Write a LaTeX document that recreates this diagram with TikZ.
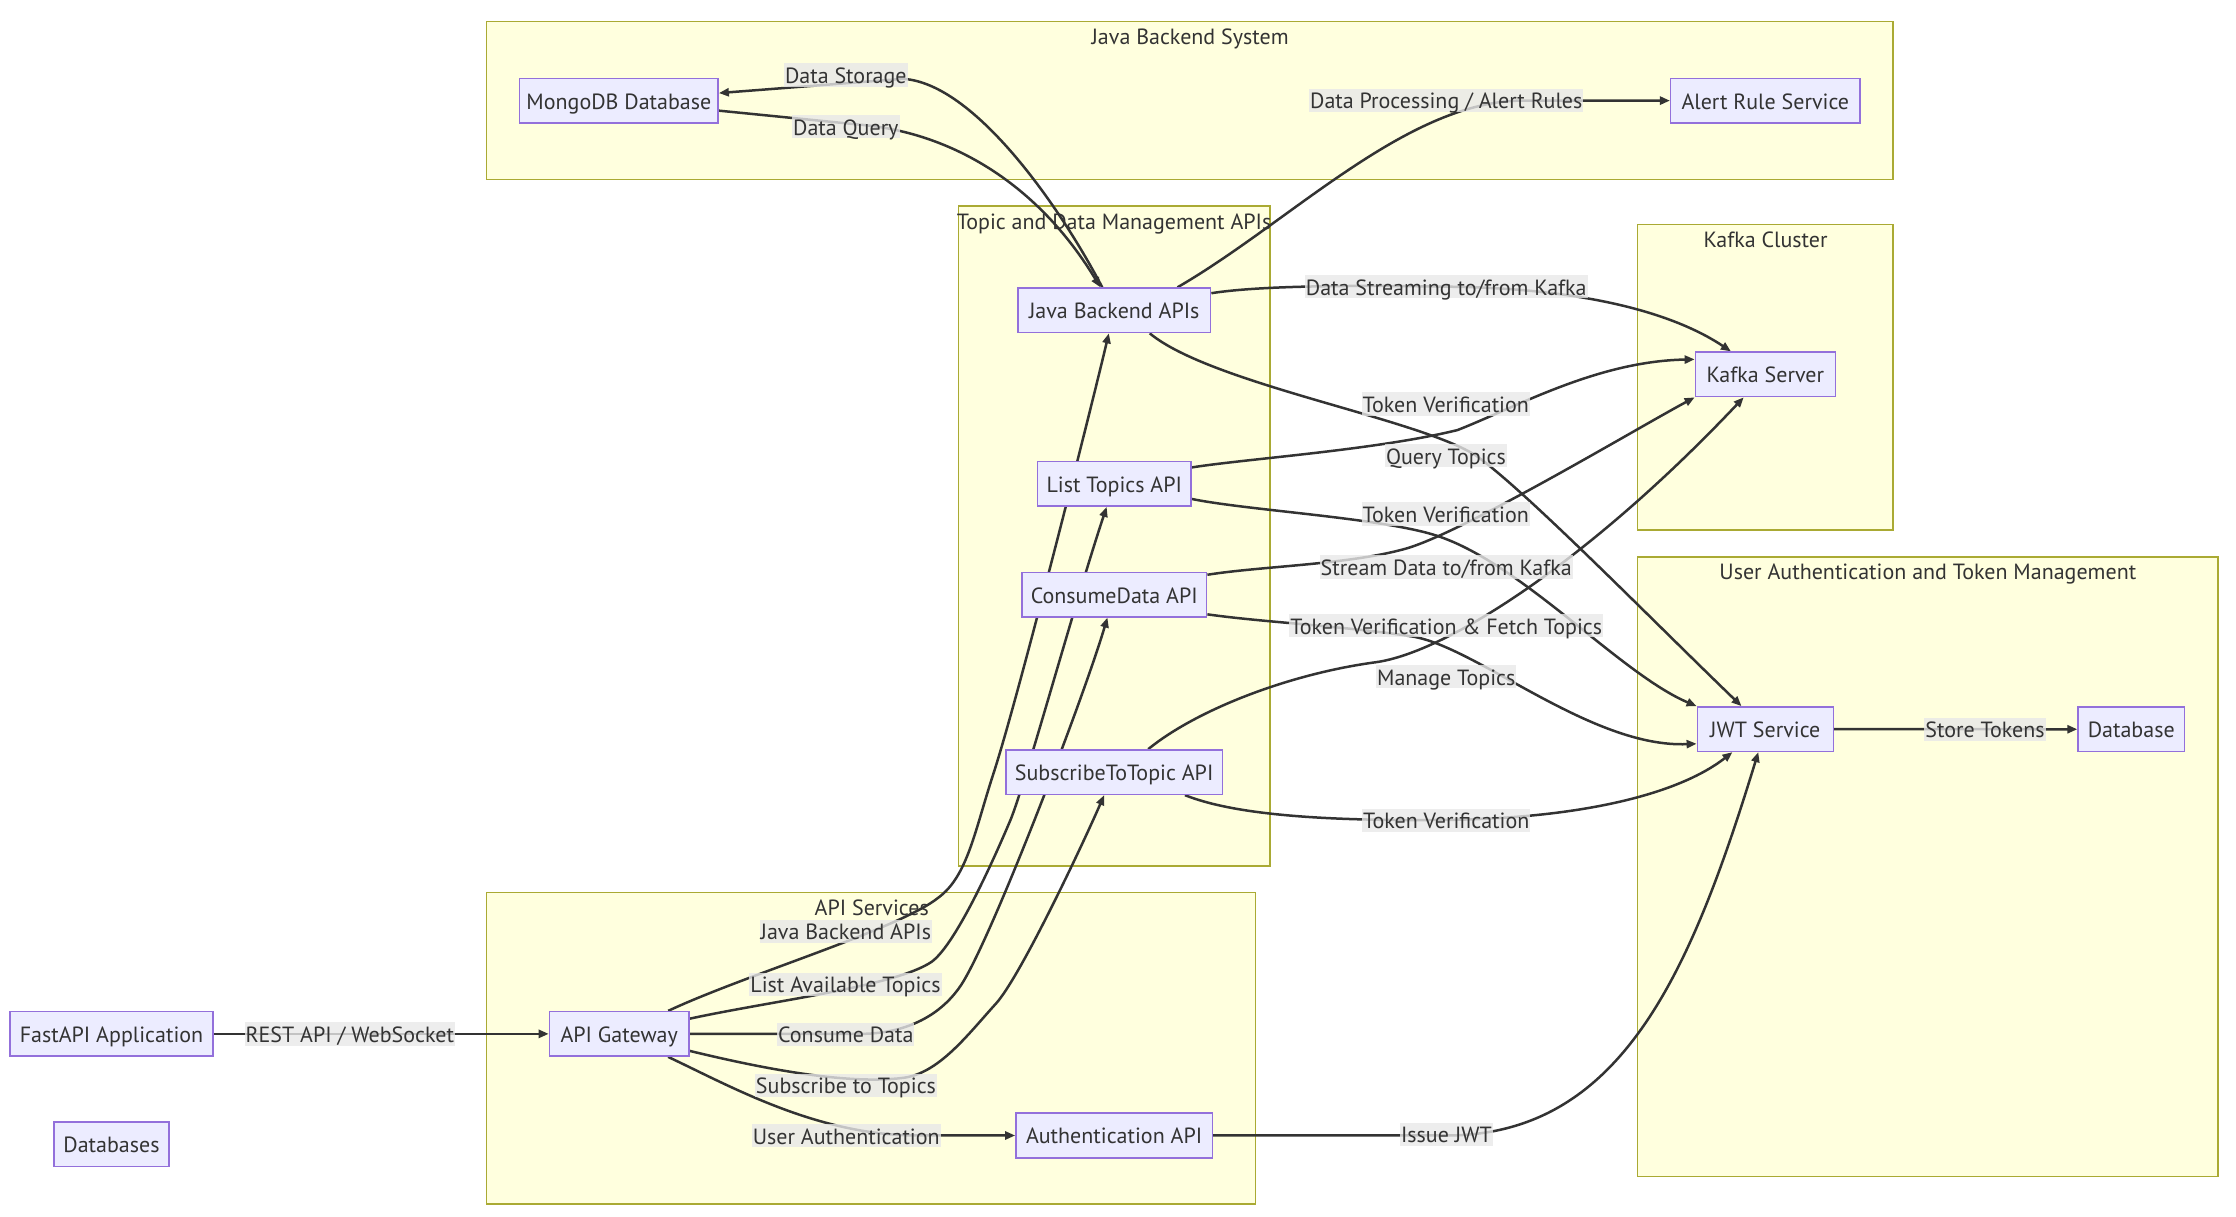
\documentclass[tikz,border=0pt]{standalone}
\usepackage{fontspec}
\setmainfont{PT Sans}
\usetikzlibrary{arrows.meta}
\definecolor{nodefill}{HTML}{ECECFF}
\definecolor{nodeline}{HTML}{9370DB}
\definecolor{clusterfill}{HTML}{FFFFDE}
\definecolor{clusterline}{HTML}{AAAA33}
\definecolor{linkline}{HTML}{333333}
\definecolor{labelfill}{HTML}{E8E8E8}
\definecolor{inktext}{HTML}{333333}
\pgfdeclarelayer{bg}
\pgfdeclarelayer{linklayer}
\pgfsetlayers{bg,linklayer,main}

\begin{document}
\begin{tikzpicture}[x=1.4333pt,y=-1.4333pt,
  font=\fontsize{22}{26}\selectfont, text=inktext,
  box/.style={draw=nodeline,fill=nodefill,line width=1.4pt,minimum height=44.6pt,inner xsep=3pt,text height=20pt,text depth=3pt},
  cluster/.style={draw=clusterline,fill=clusterfill,line width=1.4pt},
  clustertitle/.style={inner sep=0pt,text height=20pt,text depth=3pt},
  link/.style={draw=linkline,line width=2.5pt,-{Triangle[length=10pt,width=8pt]}},
  lbl/.style={fill=labelfill,fill opacity=0.8,text opacity=1,inner xsep=1pt,inner ysep=0pt,text height=20pt,text depth=3.3pt}]
\useasboundingbox (0,0) rectangle (1560,848.4);

\draw (431.8,70.3) node[box,minimum width=198.5pt] (mongo) {MongoDB Database};
\draw (1231.6,70.2) node[box,minimum width=189.3pt] (alert) {Alert Rule Service};
\draw (777.4,216.5) node[box,minimum width=192.8pt] (jba) {Java Backend APIs};
\draw (1231.6,261.2) node[box,minimum width=139.9pt] (kafka) {Kafka Server};
\draw (777.4,337.6) node[box,minimum width=153.5pt] (lt) {List Topics API};
\draw (777.4,414.8) node[box,minimum width=184.8pt] (cd) {ConsumeData API};
\draw (777.3,538.7) node[box,minimum width=216.4pt] (sub) {SubscribeToTopic API};
\draw (1231.6,508.7) node[box,minimum width=136pt] (jwt) {JWT Service};
\draw (1486.9,508.8) node[box,minimum width=106.4pt] (db) {Database};
\draw (77.8,721.3) node[box,minimum width=203pt] (fastapi) {FastAPI Application};
\draw (432,721.3) node[box,minimum width=139.6pt] (gw) {API Gateway};
\draw (77.8,798.4) node[box,minimum width=115.2pt] (dbs) {Databases};
\draw (777.3,792.2) node[box,minimum width=196.5pt] (auth) {Authentication API};

\begin{pgfonlayer}{bg}
\draw[cluster] (339.5,15) rectangle (1320.6,125.4);
\draw (830.3,25.3) node[clustertitle] (jbstitle) {Java Backend System};
\draw[cluster] (668.7,143.7) rectangle (886.1,604.2);
\draw (777.3,154.2) node[clustertitle] (tdmtitle) {Topic and Data Management APIs};
\draw[cluster] (1142.3,156.5) rectangle (1320.6,369.9);
\draw (1231.8,166.4) node[clustertitle] (kctitle) {Kafka Cluster};
\draw[cluster] (1142.3,388.5) rectangle (1547.5,821);
\draw (1345,398.2) node[clustertitle] (uatmtitle) {User Authentication and Token Management};
\draw[cluster] (339.5,622.8) rectangle (875.8,840);
\draw (608.2,632.6) node[clustertitle] (apistitle) {API Services};
\end{pgfonlayer}

\begin{pgfonlayer}{linklayer}
\draw[link] (fastapi) -- (gw);
\draw[link] (gw) .. controls (520,680) and (628,648) .. (655,626) .. controls (675,611) and (680,580) .. (693,540) .. controls (710,488) and (760,290) .. (jba);
\draw[link] (gw) .. controls (540,698) and (625,688) .. (650,671) .. controls (668,658) and (697,591) .. (705,572) .. controls (715,548) and (750,420) .. (lt);
\draw[link] (gw) -- (600,721.3) .. controls (630,721.3) and (655,710) .. (670,688) .. controls (690,659) and (755,490) .. (cd);
\draw[link] (gw) .. controls (530,745) and (590,757) .. (630,752) .. controls (655,749) and (675,722) .. (695,700) .. controls (712,681) and (755,590) .. (sub);
\draw[link] (gw) .. controls (510,758) and (570,792.2) .. (640,792.2) -- (auth);
\draw[link] (auth) -- (1009,792.2) .. controls (1130,792.2) and (1178.8,681.4) .. (jwt);
\draw[link] (jwt) -- (db);
\draw[link] (jba) .. controls (740,145) and (680,58) .. (630,55) -- (mongo);
\draw[link] (mongo) -- (600,87) .. controls (660,92) and (722,125) .. (jba);
\draw[link] (jba.20) .. controls (900,155) and (980,72) .. (1060,70.2) -- (alert);
\draw[link] (jba.10) .. controls (880,199) and (950,199) .. (1009,200) .. controls (1110,201) and (1170,220) .. (kafka);
\draw[link] (jba.-33) .. controls (845,268) and (990,292) .. (1030,318) .. controls (1065,343) and (1150,430) .. (jwt);
\draw[link] (lt.12) .. controls (870,320) and (960,314) .. (1017,300) .. controls (1060,283) and (1115,252) .. (kafka.168);
\draw[link] (lt.-11) .. controls (870,356) and (960,361) .. (1000,373) .. controls (1060,391) and (1130,470) .. (jwt.north west);
\draw[link] (cd.12) .. controls (880,395) and (940,394) .. (980,383) .. controls (1020,372) and (1140,300) .. (kafka.south west);
\draw[link] (cd.-12) .. controls (880,434) and (940,437) .. (985,444) .. controls (1030,451) and (1110,522) .. (jwt.192);
\draw[link] (sub.34) .. controls (835,495) and (900,470) .. (960,462) .. controls (1010,455) and (1110,390) .. (kafka);
\draw[link] (sub.-18) .. controls (860,568) and (920,573) .. (1009,572) .. controls (1100,571) and (1170,555) .. (jwt.215);
\end{pgfonlayer}

\draw (244,721.3) node[lbl] (lblrest) {REST API / WebSocket};
\draw (590.1,649.8) node[lbl] (lbljava) {Java Backend APIs};
\draw (589.9,686.9) node[lbl] (lbllist) {List Available Topics};
\draw (590.1,721.5) node[lbl] (lblconsume) {Consume Data};
\draw (590.2,757.2) node[lbl] (lblsubscribe) {Subscribe to Topics};
\draw (590.4,792.4) node[lbl] (lbluser) {User Authentication};
\draw (1009.1,791.6) node[lbl] (lblissue) {Issue JWT};
\draw (1384.9,509) node[lbl] (lblstore) {Store Tokens};
\draw (590.1,52.4) node[lbl] (lblstorage) {Data Storage};
\draw (590.1,88.4) node[lbl] (lblquery) {Data Query};
\draw (1009,70.2) node[lbl] (lblalert) {Data Processing / Alert Rules};
\draw (1009,200) node[lbl] (lblstream) {Data Streaming to/from Kafka};
\draw (1008.7,281.8) node[lbl] (lbltokenjava) {Token Verification};
\draw (1008.8,318) node[lbl] (lbltopics) {Query Topics};
\draw (1008.7,358.7) node[lbl] (lbltokenlist) {Token Verification};
\draw (1009,395.5) node[lbl] (lblstreamdata) {Stream Data to/from Kafka};
\draw (1009,436.6) node[lbl] (lbltokenfetch) {Token Verification \& Fetch Topics};
\draw (1009,472.1) node[lbl] (lblmanage) {Manage Topics};
\draw (1009,572.2) node[lbl] (lbltokensub) {Token Verification};
\end{tikzpicture}
\end{document}
